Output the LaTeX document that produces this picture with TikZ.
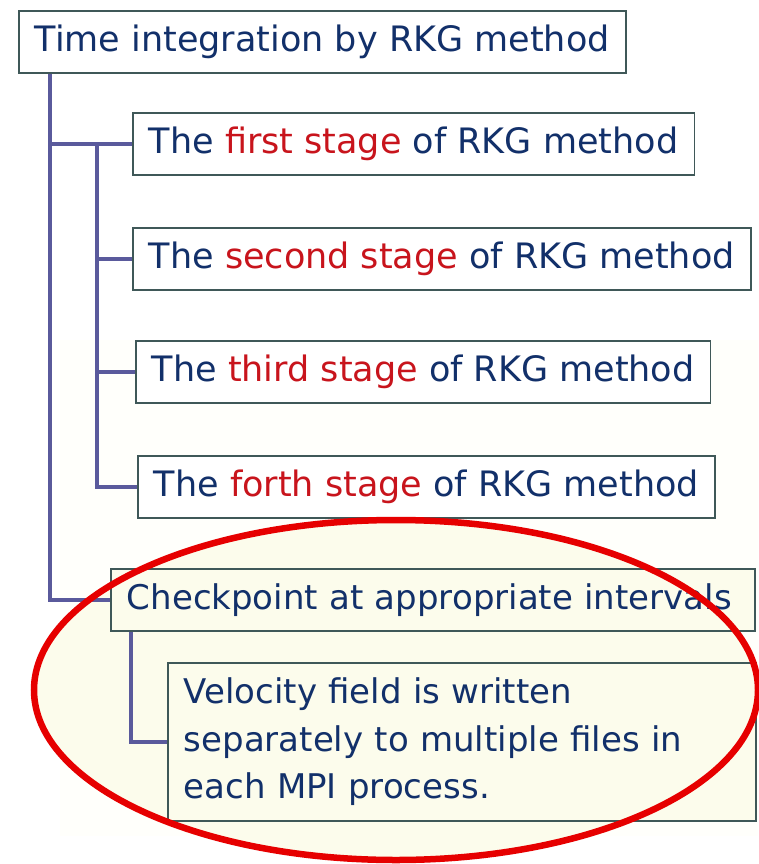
\documentclass[tikz,border=0pt]{standalone}
\usepackage{fontspec}
\setmainfont{DejaVu Sans}
\usetikzlibrary{calc}
\definecolor{navy}{HTML}{12306A}
\definecolor{hl}{HTML}{C8141C}
\definecolor{link}{HTML}{5A5A9C}
\definecolor{frame}{HTML}{3F5858}
\definecolor{cream}{HTML}{FCFCEC}
\definecolor{creamlt}{HTML}{FFFFFB}
\definecolor{ring}{HTML}{E60000}
\begin{document}
\begin{tikzpicture}[x=1pt,y=1pt,
  box/.style={draw=frame, line width=1.6pt, fill=white, anchor=north west,
    inner xsep=16pt, inner ysep=0pt, minimum height=62pt,
    font=\fontsize{35}{40}\selectfont, text=navy},
  conn/.style={draw=link, line width=3.6pt}]
\useasboundingbox (0,0) rectangle (758,-864);
\fill[white] (0,0) rectangle (758,-864);
% soft cream background behind the checkpoint group
\fill[creamlt] (60,-340) rectangle (758,-836);
\fill[cream] (396,-690) ellipse [x radius=362, y radius=170];

\node[box] (title) at (18,-10) {Time integration by RKG method};
\node[box] (s1) at (132,-112) {The \textcolor{hl}{first stage} of RKG method};
\node[box] (s2) at (132,-227) {The \textcolor{hl}{second stage} of RKG method};
\node[box] (s3) at (135,-340) {The \textcolor{hl}{third stage} of RKG method};
\node[box] (s4) at (137,-455) {The \textcolor{hl}{forth stage} of RKG method};
\node[box, fill=cream, text width=612pt, font=\fontsize{34}{40}\selectfont] (chk) at (110,-568) {Checkpoint at appropriate intervals};
\node[box, fill=cream, align=left, minimum height=158pt, text width=556pt,
  font=\fontsize{34}{47.5}\selectfont] (vel) at (167,-662)
  {Velocity field is written\\separately to multiple files in\\each MPI process.};

% tree connectors
\draw[conn] ($(title.south west)+(32,0)$) |- (s1.west);
\draw[conn] ($(title.south west)+(32,0)$) |- (chk.west);
\draw[conn] ($(s1.west)+(-35,0)$) |- (s2.west);
\draw[conn] ($(s1.west)+(-35,0)$) |- (s3.west);
\draw[conn] ($(s1.west)+(-35,0)$) |- (s4.west);
\draw[conn] ($(chk.south west)+(21,0)$) |- (vel.west);

% red highlight ring
\draw[ring, line width=6.5pt] (396,-690) ellipse [x radius=362, y radius=170];
\end{tikzpicture}
\end{document}
